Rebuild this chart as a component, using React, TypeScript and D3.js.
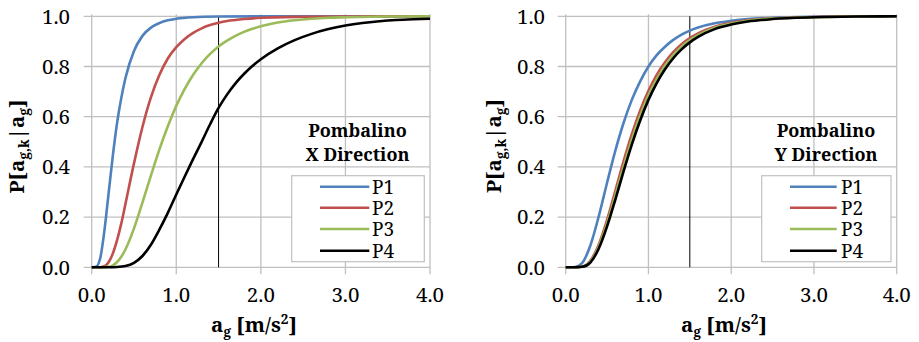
import React from "react";
import * as d3 from "d3";

// Peak ground acceleration samples (m/s²) and exceedance probabilities per limit state
const agLeftP1 = [0, 0.05, 0.1, 0.15, 0.2, 0.25, 0.3, 0.35, 0.4, 0.5, 0.6, 0.7, 0.8, 0.9, 1.0, 1.2, 1.5, 2.0, 3.0, 4.0];
const probLeftP1 = [0, 0.002, 0.035, 0.145, 0.295, 0.445, 0.575, 0.675, 0.755, 0.862, 0.922, 0.955, 0.973, 0.984, 0.99, 0.996, 0.999, 1, 1, 1];

const agLeftP2 = [0, 0.1, 0.15, 0.2, 0.25, 0.3, 0.35, 0.4, 0.5, 0.6, 0.7, 0.8, 0.9, 1.0, 1.1, 1.2, 1.3, 1.4, 1.5, 1.6, 1.8, 2.0, 2.5, 3.0, 4.0];
const probLeftP2 = [0, 0.0003, 0.004, 0.02, 0.055, 0.108, 0.175, 0.254, 0.414, 0.559, 0.677, 0.766, 0.832, 0.877, 0.91, 0.934, 0.952, 0.965, 0.974, 0.981, 0.989, 0.994, 0.998, 0.9995, 1];

const agLeftP3 = [0, 0.1, 0.2, 0.25, 0.3, 0.35, 0.4, 0.5, 0.6, 0.7, 0.8, 0.9, 1.0, 1.1, 1.2, 1.3, 1.4, 1.5, 1.6, 1.7, 1.8, 1.9, 2.0, 2.2, 2.4, 2.6, 2.8, 3.0, 3.5, 4.0];
const probLeftP3 = [0, 0, 0.002, 0.008, 0.021, 0.042, 0.072, 0.155, 0.258, 0.365, 0.469, 0.562, 0.643, 0.711, 0.767, 0.813, 0.85, 0.88, 0.903, 0.922, 0.938, 0.95, 0.96, 0.975, 0.984, 0.99, 0.994, 0.996, 0.999, 1];

const agLeftP4 = [0, 0.2, 0.3, 0.4, 0.5, 0.6, 0.7, 0.8, 0.9, 1.0, 1.1, 1.2, 1.3, 1.4, 1.5, 1.6, 1.7, 1.8, 1.9, 2.0, 2.2, 2.4, 2.6, 2.8, 3.0, 3.2, 3.4, 3.6, 3.8, 4.0];
const probLeftP4 = [0, 0, 0.001, 0.005, 0.018, 0.045, 0.09, 0.15, 0.217, 0.29, 0.362, 0.432, 0.5, 0.57, 0.635, 0.688, 0.733, 0.77, 0.802, 0.829, 0.872, 0.905, 0.93, 0.949, 0.963, 0.973, 0.98, 0.985, 0.988, 0.99];

const agRight = [0, 0.1, 0.2, 0.3, 0.4, 0.5, 0.6, 0.7, 0.8, 0.9, 1.0, 1.1, 1.2, 1.3, 1.4, 1.5, 1.6, 1.8, 2.0, 2.2, 2.5, 3.0, 3.5, 4.0];
const probRightP1 = [0, 0.0004, 0.018, 0.089, 0.204, 0.337, 0.465, 0.576, 0.668, 0.741, 0.8, 0.845, 0.879, 0.906, 0.927, 0.943, 0.955, 0.972, 0.982, 0.989, 0.994, 0.998, 0.9995, 1];
const probRightP2 = [0, 0, 0.003, 0.027, 0.091, 0.189, 0.305, 0.423, 0.531, 0.625, 0.703, 0.767, 0.817, 0.857, 0.889, 0.913, 0.932, 0.958, 0.974, 0.984, 0.992, 0.997, 0.999, 1];
const probRightP3 = [0, 0, 0.0025, 0.024, 0.083, 0.175, 0.287, 0.402, 0.51, 0.605, 0.685, 0.75, 0.803, 0.845, 0.879, 0.905, 0.925, 0.954, 0.971, 0.982, 0.991, 0.996, 0.999, 1];
const probRightP4 = [0, 0, 0.002, 0.02, 0.075, 0.163, 0.27, 0.383, 0.49, 0.585, 0.667, 0.734, 0.789, 0.833, 0.868, 0.896, 0.918, 0.949, 0.967, 0.979, 0.989, 0.996, 0.999, 1];

const seriesNames = ["P1", "P2", "P3", "P4"];
const seriesColors = ["#4F81BD", "#C0504D", "#9BBB59", "#000000"];
const xTicks = [0, 1, 2, 3, 4];
const yTicks = [0, 0.2, 0.4, 0.6, 0.8, 1.0];
const markerAg = 1.5;
const panelTitles = [["Pombalino", "X Direction"], ["Pombalino", "Y Direction"]];

const FONT = "Noto Serif, DejaVu Serif, serif";
const GRID = "#c0c0c0";

type Layout = {
  x0: number; x1: number; yTop: number; yBot: number;
  tickRight: number; yTitleX: number; yTitleY: number; xTitleX: number;
  titleX: number; legX: number; legW: number; lineX0: number; lineX1: number; labelX: number;
};

const layouts: Layout[] = [
  { x0: 91.7, x1: 430, yTop: 16.3, yBot: 267.3, tickRight: 70, yTitleX: 24, yTitleY: 146.5, xTitleX: 254,
    titleX: 357.5, legX: 291.7, legW: 132.6, lineX0: 320, lineX1: 369.3, labelX: 372 },
  { x0: 565.7, x1: 896.7, yTop: 16.3, yBot: 267.3, tickRight: 545, yTitleX: 500.7, yTitleY: 146, xTitleX: 724,
    titleX: 826, legX: 761.7, legW: 129.3, lineX0: 790, lineX1: 836.7, labelX: 841 },
];

const panelData = [
  [
    { ag: agLeftP1, p: probLeftP1 },
    { ag: agLeftP2, p: probLeftP2 },
    { ag: agLeftP3, p: probLeftP3 },
    { ag: agLeftP4, p: probLeftP4 },
  ],
  [
    { ag: agRight, p: probRightP1 },
    { ag: agRight, p: probRightP2 },
    { ag: agRight, p: probRightP3 },
    { ag: agRight, p: probRightP4 },
  ],
];

function Panel({ idx }: { idx: number }) {
  const L = layouts[idx];
  const x = d3.scaleLinear().domain([0, 4]).range([L.x0, L.x1]);
  const y = d3.scaleLinear().domain([0, 1]).range([L.yBot, L.yTop]);
  const line = d3
    .line<[number, number]>()
    .x((d) => x(d[0]))
    .y((d) => y(d[1]))
    .curve(d3.curveMonotoneX);

  const legRows = [186.7, 207.7, 229, 250.7];
  const legTop = 175.7;
  const legH = 86;

  return (
    <g style={{ fontFamily: FONT }}>
      {/* gridlines with outward tick stubs */}
      {yTicks.map((t) => (
        <line key={"h" + t} x1={L.x0 - 8} x2={L.x1} y1={y(t)} y2={y(t)} stroke={GRID} strokeWidth={1.3} />
      ))}
      {xTicks.map((t) => (
        <line key={"v" + t} x1={x(t)} x2={x(t)} y1={L.yTop - 2} y2={L.yBot + 7} stroke={GRID} strokeWidth={1.3} />
      ))}

      {/* tick labels */}
      {yTicks.map((t) => (
        <text key={"yl" + t} x={L.tickRight} y={y(t) + 7.3} textAnchor="end" fontSize={20.5} fill="#000">
          {d3.format(".1f")(t)}
        </text>
      ))}
      {xTicks.map((t) => (
        <text key={"xl" + t} x={x(t)} y={301.7} textAnchor="middle" fontSize={20.5} fill="#000">
          {d3.format(".1f")(t)}
        </text>
      ))}

      {/* reference acceleration */}
      <line x1={x(markerAg)} x2={x(markerAg)} y1={y(1)} y2={y(0)} stroke="#000" strokeWidth={1} />

      {/* fragility curves */}
      {panelData[idx].map((s, i) => (
        <path
          key={"c" + i}
          d={line(s.ag.map((a, k) => [a, s.p[k]] as [number, number])) || ""}
          fill="none"
          stroke={seriesColors[i]}
          strokeWidth={2.6}
          strokeLinejoin="round"
        />
      ))}

      {/* panel title */}
      <text x={L.titleX} y={136.7} textAnchor="middle" fontSize={18} fontWeight="bold">
        {panelTitles[idx][0]}
      </text>
      <text x={L.titleX} y={161} textAnchor="middle" fontSize={18} fontWeight="bold">
        {panelTitles[idx][1]}
      </text>

      {/* legend */}
      <rect x={L.legX} y={legTop} width={L.legW} height={legH} fill="#fff" stroke={GRID} strokeWidth={1.2} />
      {seriesNames.map((n, i) => (
        <g key={"lg" + n}>
          <line x1={L.lineX0} x2={L.lineX1} y1={legRows[i]} y2={legRows[i]} stroke={seriesColors[i]} strokeWidth={2.6} />
          <text x={L.labelX} y={legRows[i] + 7} fontSize={19} fill="#000">
            {n}
          </text>
        </g>
      ))}

      {/* axis titles */}
      <text x={L.xTitleX} y={332} textAnchor="middle" fontSize={20.5} fontWeight="bold">
        a<tspan fontSize={13.5} dy={5}>g</tspan>
        <tspan dy={-5}> [m/s</tspan>
        <tspan fontSize={13.5} dy={-8.5}>2</tspan>
        <tspan dy={8.5}>]</tspan>
      </text>
      <text
        x={L.yTitleX}
        y={L.yTitleY}
        transform={`rotate(-90, ${L.yTitleX}, ${L.yTitleY})`}
        textAnchor="middle"
        fontSize={20.5}
        fontWeight="bold"
      >
        P[a<tspan fontSize={13.5} dy={5}>g,k</tspan>
        <tspan dy={-5}>|a</tspan>
        <tspan fontSize={13.5} dy={5}>g</tspan>
        <tspan dy={-5}>]</tspan>
      </text>
    </g>
  );
}

export default function App() {
  return (
    <svg
      width={919}
      height={342}
      viewBox="0 0 919 342"
      style={{ position: "absolute", left: 0, top: 0, background: "#fff" }}
    >
      <rect width={919} height={342} fill="#fff" />
      <Panel idx={0} />
      <Panel idx={1} />
    </svg>
  );
}
